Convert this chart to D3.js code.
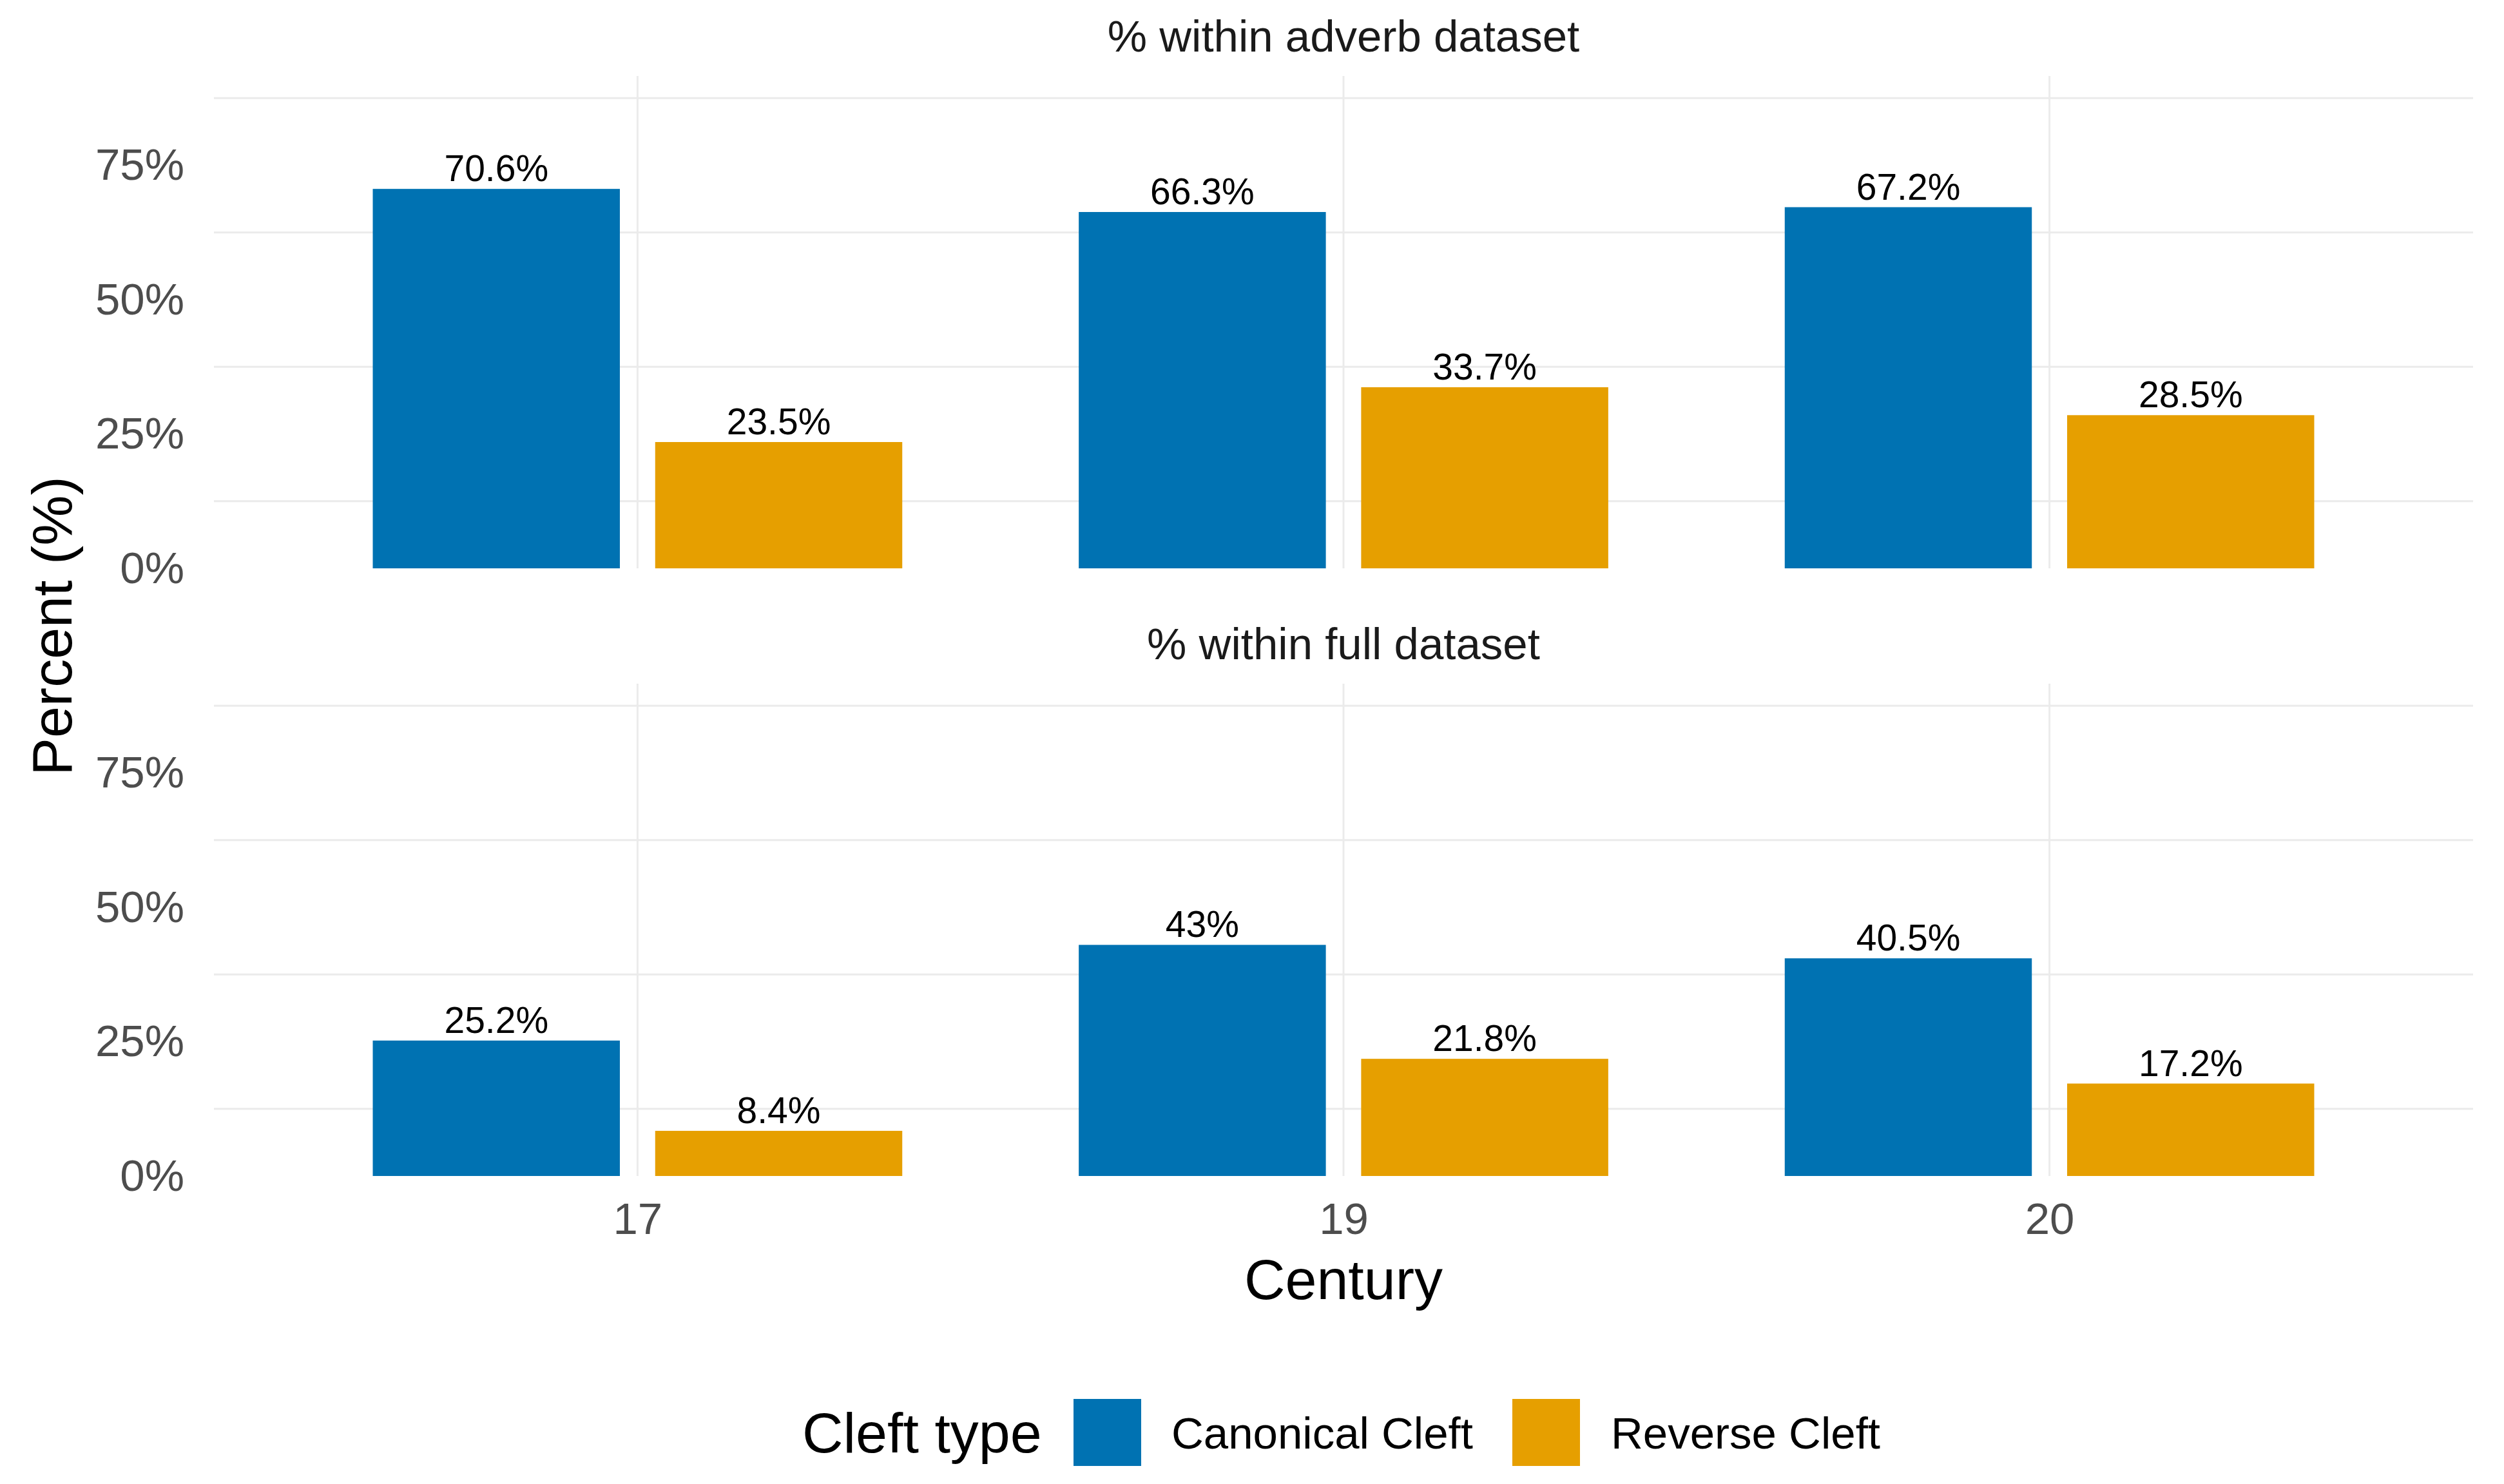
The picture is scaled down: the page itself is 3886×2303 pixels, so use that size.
<!DOCTYPE html>
<html>
<head>
<meta charset="utf-8">
<script src="https://cdn.jsdelivr.net/npm/d3@7"></script>
<style>
  body { margin: 0; background: #fff; }
  text { font-family: "Liberation Sans", Arial, Helvetica, sans-serif; }
</style>
</head>
<body>
<script>
// data
const centuries = ['17', '19', '20'];
const cleftTypes = ['Canonical Cleft', 'Reverse Cleft'];
const facets = ['% within adverb dataset', '% within full dataset'];
const adverbCanonical = [70.6, 66.3, 67.2];
const adverbReverse = [23.5, 33.7, 28.5];
const fullCanonical = [25.2, 43, 40.5];
const fullReverse = [8.4, 21.8, 17.2];
const yTicks = [0, 25, 50, 75];
const yMinor = [12.5, 37.5, 62.5, 87.5];

const colors = ['#0072B2', '#E69F00'];
const yMax = 91.6;

const width = 3886;
const height = 2303;

const svg = d3.select('body').append('svg')
  .attr('width', width)
  .attr('height', height);

svg.append('rect')
  .attr('width', width)
  .attr('height', height)
  .attr('fill', '#fff');

// panel geometry
const left = 332, right = 3838;
const panelH = 764;
const panelTops = [118, 1061];

const x = d3.scalePoint()
  .domain(centuries)
  .range([left, right])
  .padding(0.6);

const step = x.step();
const dodge = d3.scaleBand()
  .domain(cleftTypes)
  .range([-0.4 * step, 0.4 * step]);
const barW = 0.35 * step;

const panelData = [
  [adverbCanonical, adverbReverse],
  [fullCanonical, fullReverse]
];

panelData.forEach((series, p) => {
  const top = panelTops[p];
  const y = d3.scaleLinear()
    .domain([0, yMax])
    .range([top + panelH, top]);

  const g = svg.append('g');

  // facet strip title
  g.append('text')
    .attr('x', (left + right) / 2)
    .attr('y', top - 38)
    .attr('text-anchor', 'middle')
    .attr('font-size', 69)
    .attr('fill', '#1a1a1a')
    .text(facets[p]);

  // grid (only minor horizontal lines + vertical major lines)
  g.append('g').selectAll('line.h')
    .data(yMinor)
    .enter().append('line')
    .attr('x1', left)
    .attr('x2', right)
    .attr('y1', d => y(d))
    .attr('y2', d => y(d))
    .attr('stroke', '#ebebeb')
    .attr('stroke-width', 3);

  g.append('g').selectAll('line.v')
    .data(centuries)
    .enter().append('line')
    .attr('x1', d => x(d))
    .attr('x2', d => x(d))
    .attr('y1', top)
    .attr('y2', top + panelH)
    .attr('stroke', '#ebebeb')
    .attr('stroke-width', 3);

  // y axis labels
  const yAxis = g.append('g')
    .attr('transform', `translate(${left},0)`)
    .call(d3.axisLeft(y)
      .tickValues(yTicks)
      .tickSize(0)
      .tickPadding(46)
      .tickFormat(d => d + '%'));
  yAxis.select('.domain').remove();
  yAxis.selectAll('text')
    .attr('font-size', 69)
    .attr('fill', '#4d4d4d')
    .attr('font-family', '"Liberation Sans", Arial, sans-serif');

  // bars
  series.forEach((vals, s) => {
    const bars = g.append('g');
    bars.selectAll('rect')
      .data(vals)
      .enter().append('rect')
      .attr('x', (d, i) => x(centuries[i]) + dodge(cleftTypes[s]) + dodge.bandwidth() / 2 - barW / 2)
      .attr('y', d => y(d))
      .attr('width', barW)
      .attr('height', d => y(0) - y(d))
      .attr('fill', colors[s]);

    bars.selectAll('text')
      .data(vals)
      .enter().append('text')
      .attr('x', (d, i) => x(centuries[i]) + dodge(cleftTypes[s]) + dodge.bandwidth() / 2)
      .attr('y', d => y(d) - 12)
      .attr('text-anchor', 'middle')
      .attr('font-size', 57)
      .attr('fill', '#000')
      .text(d => d + '%');
  });

  // x axis on the bottom panel only
  if (p === panelData.length - 1) {
    const xAxis = g.append('g')
      .attr('transform', `translate(0,${top + panelH})`)
      .call(d3.axisBottom(x).tickSize(0).tickPadding(41));
    xAxis.select('.domain').remove();
    xAxis.selectAll('text')
      .attr('font-size', 69)
      .attr('fill', '#4d4d4d')
      .attr('font-family', '"Liberation Sans", Arial, sans-serif');
  }
});

// axis titles
svg.append('text')
  .attr('x', (left + right) / 2)
  .attr('y', 2016)
  .attr('text-anchor', 'middle')
  .attr('font-size', 88)
  .attr('fill', '#000')
  .text('Century');

svg.append('text')
  .attr('transform', `translate(111,${(panelTops[0] + panelTops[1] + panelH) / 2}) rotate(-90)`)
  .attr('text-anchor', 'middle')
  .attr('font-size', 88)
  .attr('fill', '#000')
  .text('Percent (%)');

// legend
const legend = svg.append('g');
legend.append('text')
  .attr('x', 1245)
  .attr('y', 2254)
  .attr('font-size', 88)
  .attr('fill', '#000')
  .text('Cleft type');

const keyX = [1666, 2347];
const labelX = [1818, 2500];
cleftTypes.forEach((c, i) => {
  legend.append('rect')
    .attr('x', keyX[i])
    .attr('y', 2171)
    .attr('width', 105)
    .attr('height', 104)
    .attr('fill', colors[i]);
  legend.append('text')
    .attr('x', labelX[i])
    .attr('y', 2248)
    .attr('font-size', 69)
    .attr('fill', '#000')
    .text(c);
});
</script>
</body>
</html>
